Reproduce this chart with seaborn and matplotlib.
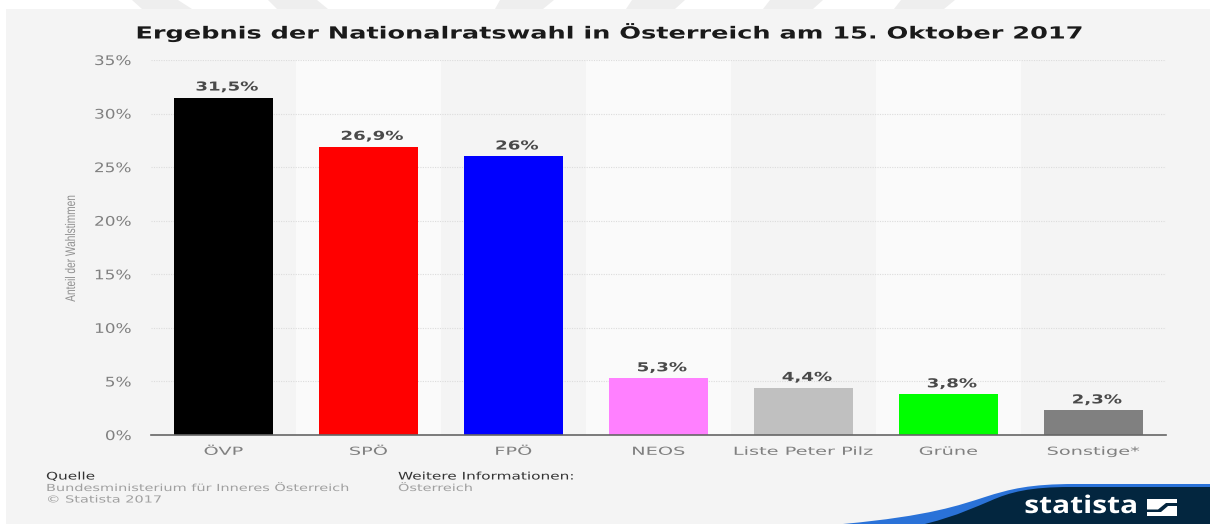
import matplotlib
matplotlib.use("Agg")
import matplotlib.pyplot as plt
from matplotlib.patches import PathPatch, Polygon, Rectangle
from matplotlib.path import Path
from matplotlib.patheffects import AbstractPathEffect
from matplotlib.transforms import Affine2D
import pandas as pd
import seaborn as sns

parties = ["ÖVP", "SPÖ", "FPÖ", "NEOS", "Liste Peter Pilz", "Grüne", "Sonstige*"]
shares = [31.5, 26.9, 26.0, 5.3, 4.4, 3.8, 2.3]
share_labels = ["31,5%", "26,9%", "26%", "5,3%", "4,4%", "3,8%", "2,3%"]
bar_colors = ["#000000", "#ff0000", "#0000ff", "#ff80ff", "#c0c0c0", "#00ff00", "#808080"]
y_ticks = [0, 5, 10, 15, 20, 25, 30, 35]
y_tick_labels = ["0%", "5%", "10%", "15%", "20%", "25%", "30%", "35%"]

W, H = 1210, 524
BG = "#f4f4f4"


class Widen(AbstractPathEffect):
    """Scale a text's glyphs along its baseline around a pivot (left, center or right)."""

    def __init__(self, factor, pivot="center"):
        super().__init__()
        self.factor = factor
        self.pivot = pivot

    def draw_path(self, renderer, gc, tpath, affine, rgbFace=None):
        ext = tpath.get_extents()
        p = {"left": 0.0, "center": (ext.x0 + ext.x1) / 2, "right": ext.x1}[self.pivot]
        stretch = Affine2D().translate(-p, 0).scale(self.factor, 1).translate(p, 0)
        renderer.draw_path(gc, tpath, stretch + affine, rgbFace)


sns.set_theme(style="white")
plt.rcParams["font.family"] = ["DejaVu Sans"]

fig = plt.figure(figsize=(W / 100, H / 100), dpi=100, facecolor="white")

# Full-figure pixel canvas for the page panel and the brand footer
page = fig.add_axes([0, 0, 1, 1], zorder=0)
page.set_xlim(0, W)
page.set_ylim(H, 0)
page.axis("off")
page.add_patch(Rectangle((6, 9), W - 6, H - 9, color=BG, lw=0))
for x0, x1, x2, x3 in [(132, 178, 192, 142), (268, 317, 328, 277)]:
    page.add_patch(Polygon([(x0, 0), (x1, 0), (x2, 9), (x3, 9)], color="#eeeeee", lw=0))
for x0, x1, x2, x3 in [(500, 554, 543, 495), (632, 685, 675, 626), (770, 823, 813, 763), (901, 955, 944, 894)]:
    page.add_patch(Polygon([(x0, 0), (x1, 0), (x2, 9), (x3, 9)], color="#eeeeee", lw=0))

C, L = Path.CURVE4, Path.LINETO
wave = Path([(843, 524), (930, 516), (960, 505), (985, 497), (1010, 489), (1030, 484), (1075, 484),
             (1210, 484), (1210, 524), (843, 524)],
            [Path.MOVETO, C, C, C, C, C, C, L, L, L])
page.add_patch(PathPatch(wave, facecolor="#2a72d8", lw=0))
dark = Path([(925, 524), (960, 515), (975, 507), (990, 501), (1010, 492), (1030, 487), (1070, 487),
             (1210, 487), (1210, 524), (925, 524)],
            [Path.MOVETO, C, C, C, C, C, C, L, L, L])
page.add_patch(PathPatch(dark, facecolor="#03263f", lw=0))
page.text(1081, 507, "statista", color="white", fontsize=17.5, fontweight="bold",
          ha="center", va="center", family="Open Sans", path_effects=[Widen(1.23)])
page.add_patch(Rectangle((1147, 499), 30, 17, color="white", lw=0))
page.add_patch(Polygon([(1147, 509.5), (1158, 509.5), (1166, 503), (1177, 503), (1177, 506), (1168, 506),
                        (1161, 512), (1147, 512)], color="#03263f", lw=0))

page.text(608.5, 32, "Ergebnis der Nationalratswahl in Österreich am 15. Oktober 2017",
          fontsize=12, fontweight="bold", color="#1a1a1a", ha="center", va="center",
          path_effects=[Widen(1.535)])

footer_heads = [(46, 476.5, "Quelle"), (398, 476.5, "Weitere Informationen:")]
footer_lines = [(46, 488, "Bundesministerium für Inneres Österreich"), (46, 499.5, "© Statista 2017"),
                (398, 488, "Österreich")]
for x, y, s in footer_heads:
    page.text(x, y, s, fontsize=7.5, color="#333333", va="center", path_effects=[Widen(1.47, "left")])
for x, y, s in footer_lines:
    page.text(x, y, s, fontsize=7, color="#a0a0a0", va="center", path_effects=[Widen(1.49, "left")])

page.text(71, 248, "Anteil der Wahlstimmen", fontsize=10, color="#909090", rotation=90,
          ha="center", va="center", family="Liberation Sans", path_effects=[Widen(0.73)])

# Plot area
left, right, top, bottom = 151, 1166, 60, 435
ax = fig.add_axes([left / W, 1 - bottom / H, (right - left) / W, (bottom - top) / H], zorder=1)
ax.patch.set_alpha(0)

df = pd.DataFrame({"party": parties, "share": shares})
sns.barplot(data=df, x="party", y="share", hue="party", palette=bar_colors, legend=False,
            width=0.683, saturation=1, ax=ax, zorder=3, linewidth=0)

ax.set_xlim(-0.5, len(parties) - 0.5)
ax.set_ylim(0, 35)

# Alternating column bands behind the bars
for i in range(1, len(parties), 2):
    ax.axvspan(i - 0.5, i + 0.5, color="#fafafa", lw=0, zorder=0)

ax.set_yticks(y_ticks, y_tick_labels)
ax.yaxis.grid(True, color="#dcdcdc", linestyle=(0, (1, 1.2)), linewidth=0.8, zorder=1)
ax.set_axisbelow(True)
ax.set_xlabel("")
ax.set_ylabel("")
ax.tick_params(axis="both", length=0, labelcolor="#808080")
ax.tick_params(axis="x", labelsize=8, pad=8.5)
ax.tick_params(axis="y", labelsize=9.5, pad=14)

for t in ax.get_xticklabels():
    t.set_path_effects([Widen(1.74)])
for t in ax.get_yticklabels():
    t.set_path_effects([Widen(1.28, "right")])

for spine in ["top", "left", "right"]:
    ax.spines[spine].set_visible(False)
ax.spines["bottom"].set_color("#666666")
ax.spines["bottom"].set_linewidth(1.2)
ax.spines["bottom"].set_zorder(5)

for i, (value, label) in enumerate(zip(shares, share_labels)):
    ax.annotate(label, (i, value), xytext=(2.5, 5), textcoords="offset points", ha="center", va="baseline",
                fontsize=8.9, fontweight="bold", color="#4a4a4a", zorder=4,
                path_effects=[Widen(1.47)])

fig.savefig("out.png", dpi=100, facecolor=fig.get_facecolor())
